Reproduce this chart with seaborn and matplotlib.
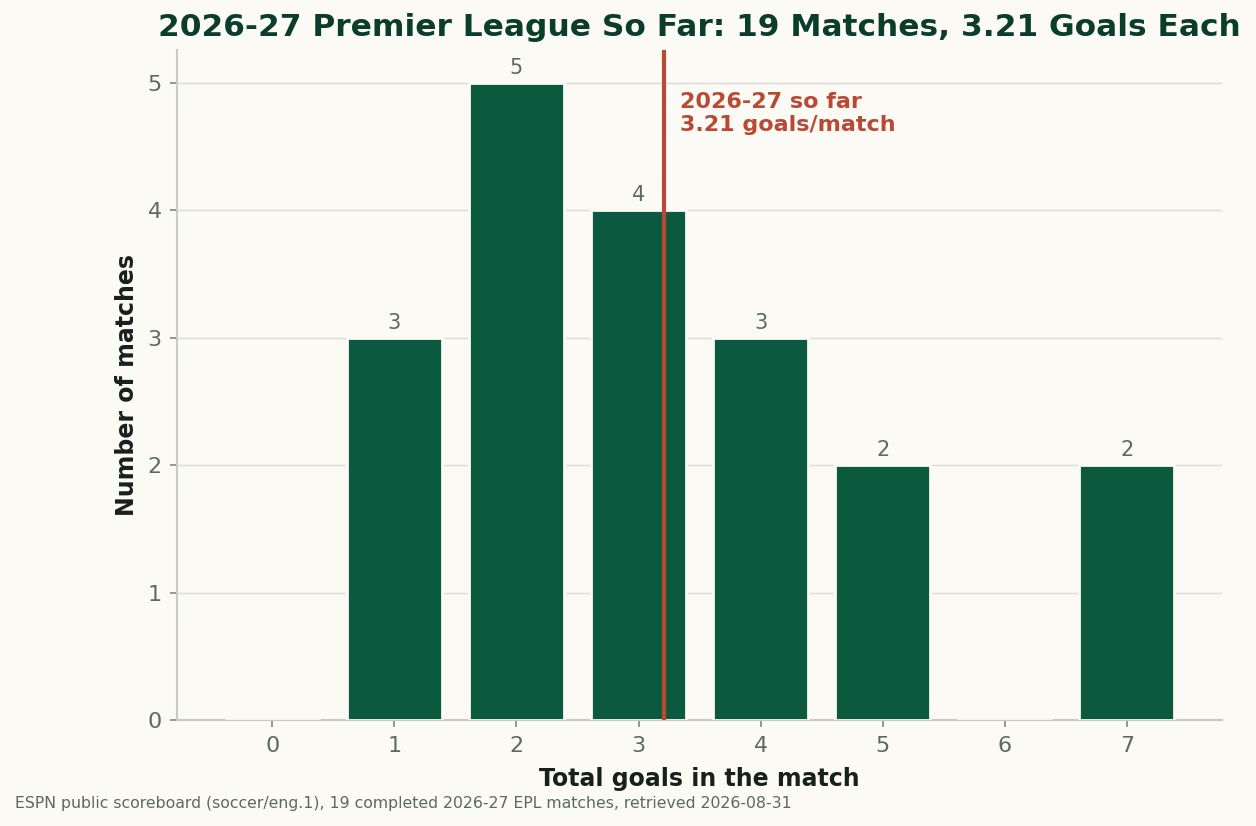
import numpy as np
import pandas as pd
import seaborn as sns
import matplotlib.pyplot as plt

goals = [0, 1, 2, 3, 4, 5, 6, 7]
matches = [0, 3, 5, 4, 3, 2, 0, 2]
avg_goals = 3.21

bg = "#fbfaf4"
bar_col = "#0b5a40"
red = "#b84a35"
grey_txt = "#5a6a62"

sns.set_theme(style="whitegrid")
plt.rcParams['font.family'] = ['DejaVu Sans']

df = pd.DataFrame({'goals': goals, 'matches': matches})

fig, ax = plt.subplots(figsize=(12.56, 8.26), dpi=100)
fig.patch.set_facecolor(bg)
ax.set_facecolor(bg)

sns.barplot(data=df, x='goals', y='matches', color=bar_col, saturation=1,
            width=0.78, edgecolor=bg, linewidth=2, ax=ax, zorder=3)

for p, v in zip(ax.patches, matches):
    if v > 0:
        ax.text(p.get_x() + p.get_width() / 2, v + 0.04, str(v), ha='center', va='bottom',
                fontsize=15, color=grey_txt, zorder=4)

ax.axvline(avg_goals, color=red, linewidth=3, zorder=4)
ax.text(avg_goals + 0.13, 4.93, "2026-27 so far\n3.21 goals/match", color=red,
        fontsize=16, fontweight='bold', va='top', ha='left', linespacing=1.2)

ax.set_xlim(-0.78, 7.78)
ax.set_ylim(0, 5.26)
ax.set_yticks([0, 1, 2, 3, 4, 5])
ax.grid(axis='y', color='#dcdcd6', linewidth=1)
ax.grid(axis='x', visible=False)
ax.set_axisbelow(True)

for s in ['top', 'right']:
    ax.spines[s].set_visible(False)
for s in ['left', 'bottom']:
    ax.spines[s].set_color('#c5cbc6')
    ax.spines[s].set_linewidth(1.5)

ax.tick_params(axis='both', labelsize=16, labelcolor=grey_txt, colors='#7d8a84',
               length=5, width=1.2, bottom=True, left=True, pad=6)
ax.tick_params(axis='both', labelcolor=grey_txt)

ax.set_xlabel("Total goals in the match", fontsize=17, fontweight='bold', color='#17201b',
              labelpad=8)
ax.set_ylabel("Number of matches", fontsize=17, fontweight='bold', color='#17201b',
              labelpad=6)
ax.set_title("2026-27 Premier League So Far: 19 Matches, 3.21 Goals Each",
             fontsize=22.5, fontweight='bold', color='#0b3d2c', pad=10)

fig.text(0.012, 0.018, "ESPN public scoreboard (soccer/eng.1), 19 completed 2026-27 EPL matches, retrieved 2026-08-31",
         fontsize=11.3, color=grey_txt, ha='left', va='bottom')

plt.subplots_adjust(left=0.141, right=0.973, top=0.94, bottom=0.128)
plt.savefig("out.png", dpi=100, facecolor=bg)
